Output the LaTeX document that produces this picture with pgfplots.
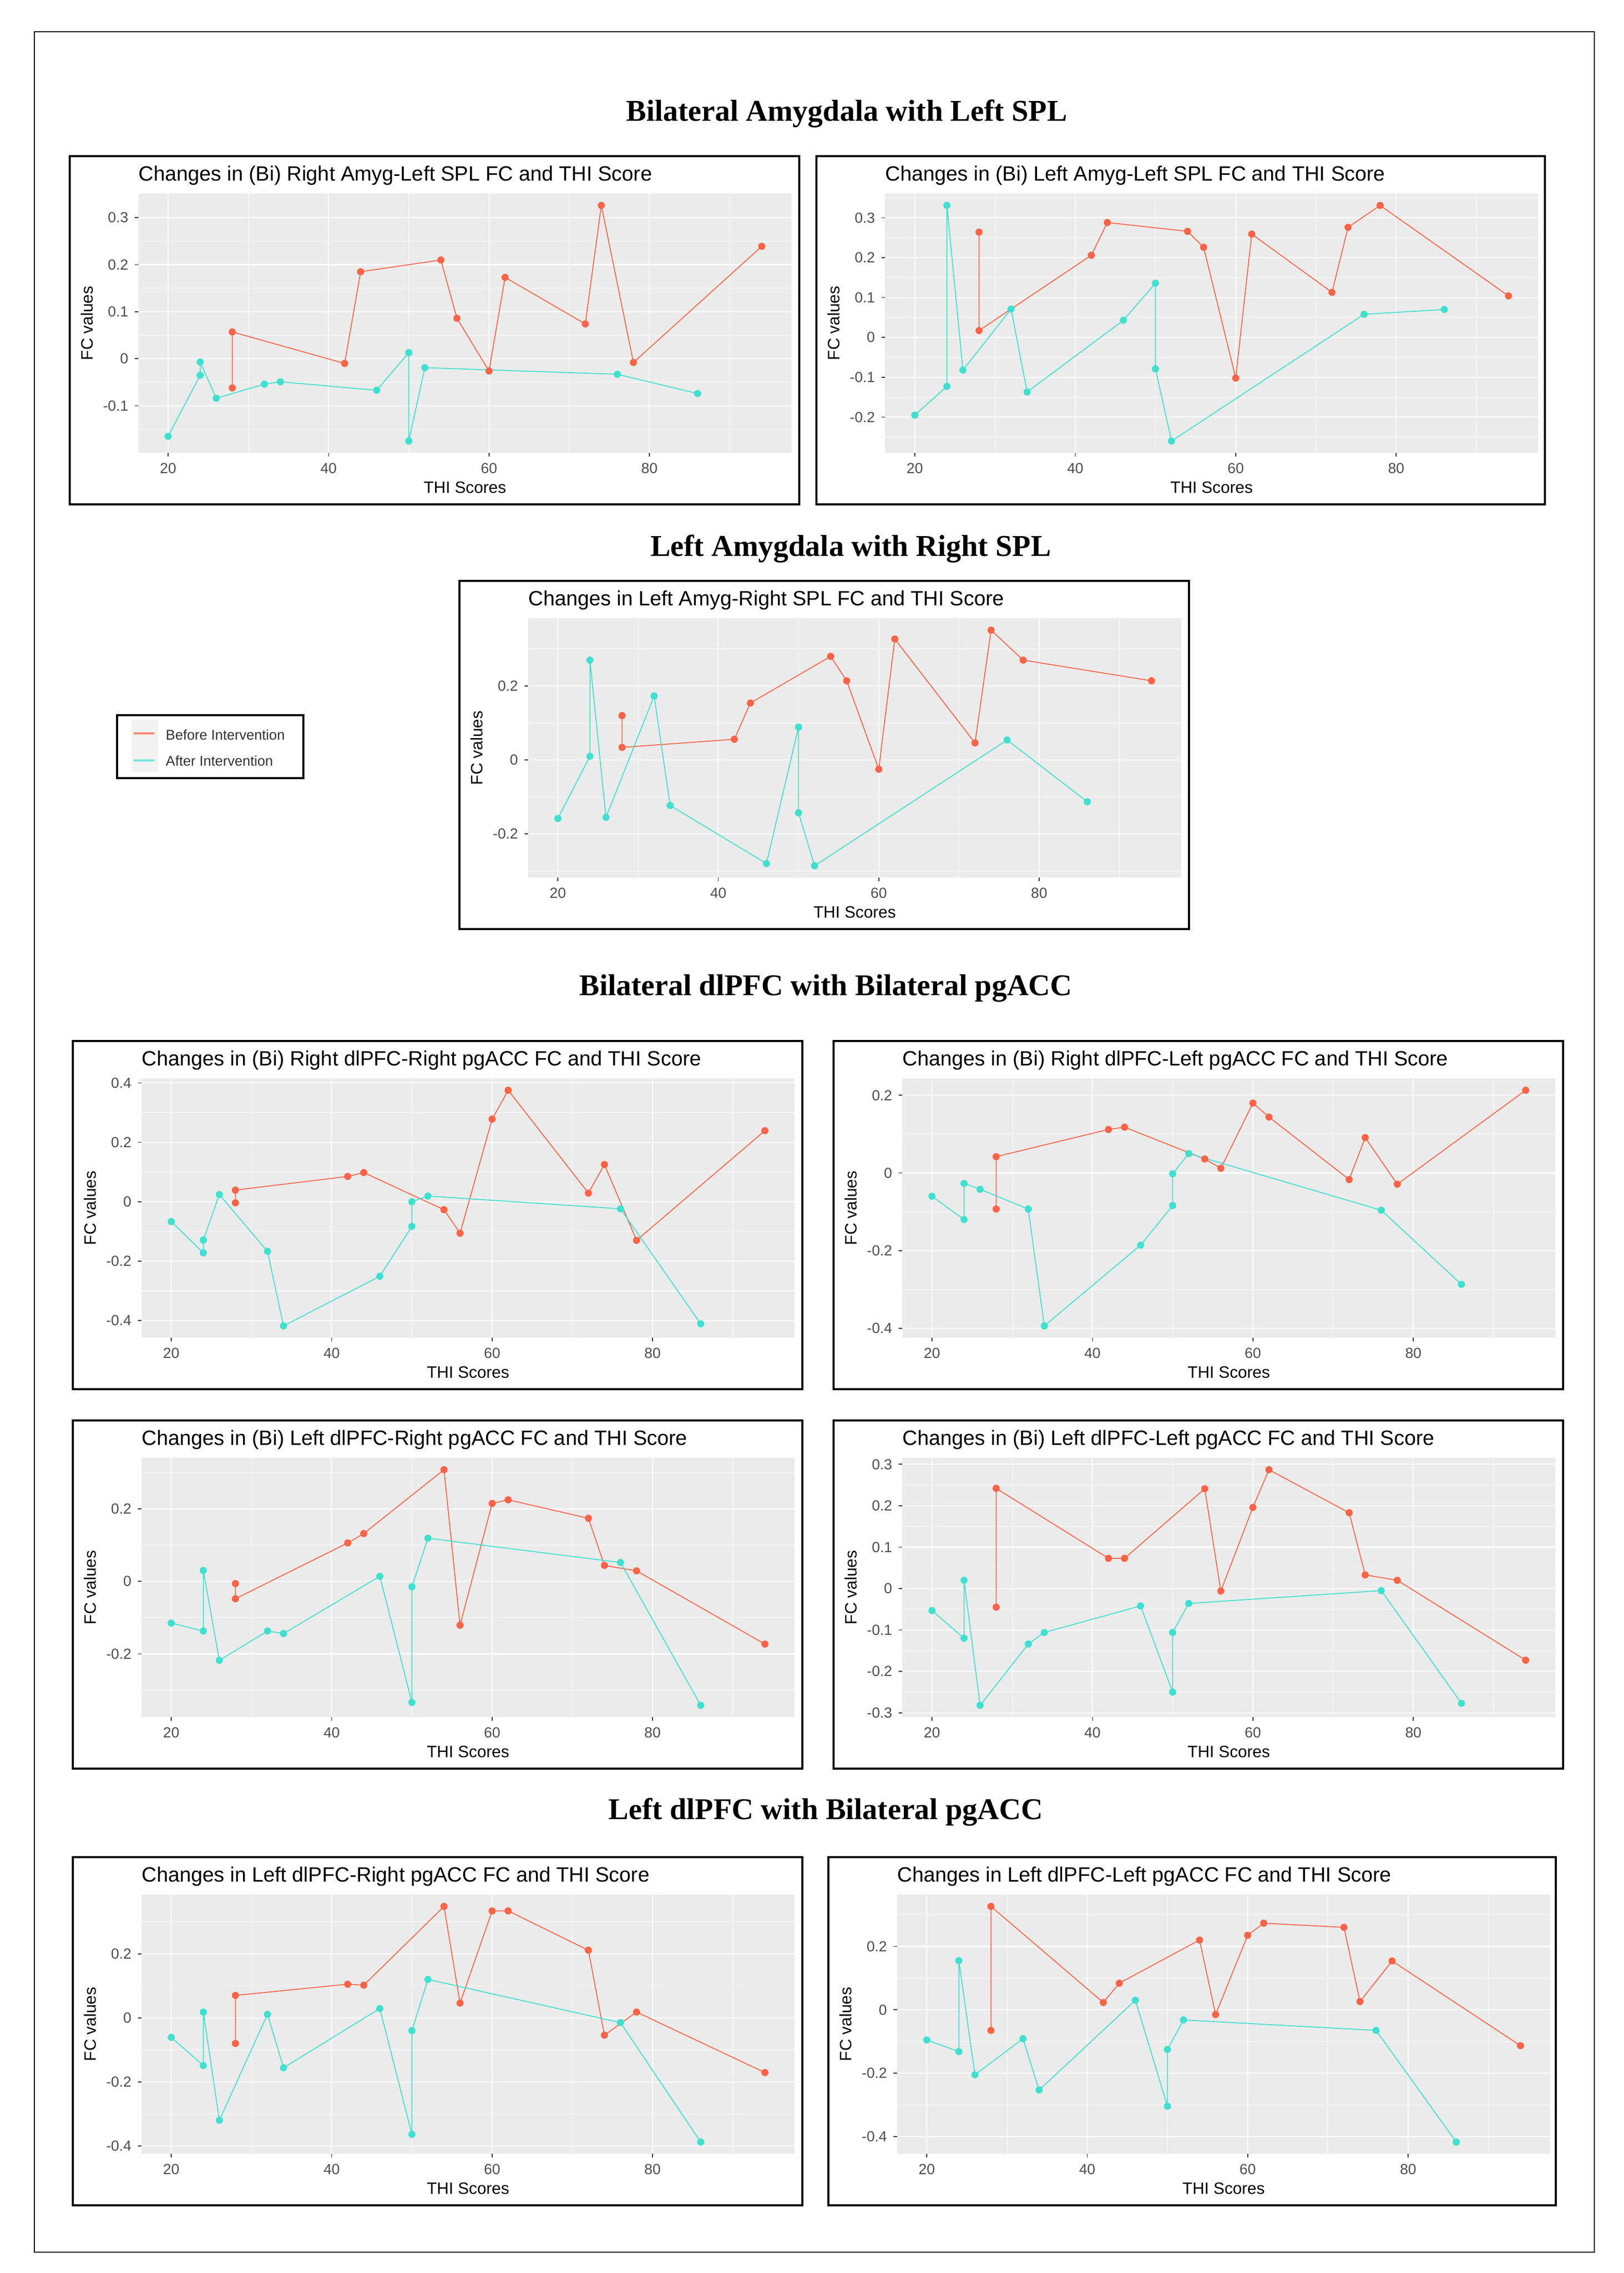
\documentclass[border=0pt]{standalone}
\usepackage{pgfplots}
\pgfplotsset{compat=1.18}
\usepackage{fontspec}
\setmainfont{Liberation Sans}
\newfontfamily\headfont{Liberation Serif}

\definecolor{ggbg}{HTML}{EBEBEB}
\definecolor{before}{HTML}{FF6347}
\definecolor{after}{HTML}{40E0D0}
\definecolor{ticktext}{HTML}{4D4D4D}
\definecolor{tickmark}{HTML}{333333}

% ggplot-like panel, plot area 1255 x 498 px (0.1 mm per px)
\pgfplotsset{
  ggpanel/.style={
    scale only axis, width=125.5mm, height=49.8mm,
    anchor=north west,
    xmin=16.3, xmax=97.7, enlarge y limits=0.05,
    xtick={20,40,60,80}, minor xtick={30,50,70,90},
    grid=both,
    axis background/.style={fill=ggbg},
    major grid style={white, line width=0.6pt},
    minor grid style={white, line width=0.3pt},
    axis line style={draw=none},
    tick pos=left, tick align=outside,
    major tick length=0.7mm, minor tick length=0pt,
    tick style={tickmark, line width=0.5pt},
    ticklabel style={font=\fontsize{8}{9}\selectfont, text=ticktext},
    yticklabel style={/pgf/number format/fixed, /pgf/number format/assume math mode=true},
    xticklabel style={/pgf/number format/assume math mode=true},
    xlabel={THI Scores}, ylabel={FC values},
    every axis x label/.style={at={(axis description cs:0.5,0)}, anchor=center,
      yshift=-6.7mm, font=\fontsize{9}{10}\selectfont},
    every axis y label/.style={at={(axis description cs:0,0.5)}, xshift=-9.9mm,
      rotate=90, anchor=center, font=\fontsize{9}{10}\selectfont},
    every axis title/.style={at={(axis description cs:0,1)}, anchor=base west,
      yshift=2.5mm, inner sep=0pt, font=\fontsize{11.3}{12}\selectfont},
  },
  bef/.style={color=before, line width=0.5pt, mark=*, mark size=1.7pt, mark options={solid, fill=before}},
  aft/.style={color=after, line width=0.5pt, mark=*, mark size=1.7pt, mark options={solid, fill=after}},
}

\begin{document}
\begin{tikzpicture}
\fill[white] (0,0) rectangle (312mm,-436.7mm);
\useasboundingbox (0,0) rectangle (312mm,-436.7mm);

% outer frame and section titles
\begin{scope}[x=0.1mm, y=-0.1mm]
\draw[line width=0.6pt] (66,61) rectangle (3064,4327);
\node[anchor=base, font=\headfont\bfseries\fontsize{16.5}{18}\selectfont] at (1627,232) {Bilateral Amygdala with Left SPL};
\node[anchor=base, font=\headfont\bfseries\fontsize{16.5}{18}\selectfont] at (1635,1068) {Left Amygdala with Right SPL};
\node[anchor=base, font=\headfont\bfseries\fontsize{16.5}{18}\selectfont] at (1587,1912) {Bilateral dlPFC with Bilateral pgACC};
\node[anchor=base, font=\headfont\bfseries\fontsize{16.5}{18}\selectfont] at (1587,3495) {Left dlPFC with Bilateral pgACC};
% panel frames
\foreach \x/\y/\w in {134/300/1402, 1569/300/1400, 883/1116/1402,
    140/2000/1402, 1602/2000/1402, 140/2729/1402, 1602/2729/1402,
    140/3568/1402, 1592/3568/1398}
  \draw[line width=1pt] (\x,\y) rectangle ++(\w,669);
% legend
\draw[line width=1pt] (225,1374) rectangle (583,1495);
\fill[black!5] (253,1382) rectangle (304,1483);
\draw[before!75, line width=1.1pt] (257,1409) -- (297,1409);
\draw[after!75, line width=1.1pt] (257,1461) -- (297,1461);
\node[anchor=base west, inner sep=0pt, font=\fontsize{7.7}{9}\selectfont, text=black!80] at (318,1421) {Before Intervention};
\node[anchor=base west, inner sep=0pt, font=\fontsize{7.7}{9}\selectfont, text=black!80] at (318,1471) {After Intervention};
\end{scope}

% Panel 1
\begin{axis}[ggpanel, at={(26.6mm,-37.2mm)},
  title={Changes in (Bi) Right Amyg-Left SPL FC and THI Score},
  ytick={-0.1,0,0.1,0.2,0.3}, minor ytick={-0.15,-0.05,0.05,0.15,0.25}]
\addplot[bef] coordinates {(28,-0.062) (28,0.057) (42,-0.010) (44,0.185) (54,0.210) (56,0.086)
  (60,-0.026) (62,0.173) (72,0.074) (74,0.326) (78,-0.008) (94,0.239)};
\addplot[aft] coordinates {(20,-0.165) (24,-0.035) (24,-0.007) (26,-0.084) (32,-0.054) (34,-0.049)
  (46,-0.067) (50,0.013) (50,-0.175) (52,-0.019) (76,-0.033) (86,-0.074)};
\end{axis}

% Panel 2
\begin{axis}[ggpanel, at={(170.1mm,-37.2mm)},
  title={Changes in (Bi) Left Amyg-Left SPL FC and THI Score},
  ytick={-0.2,-0.1,0,0.1,0.2,0.3}, minor ytick={-0.25,-0.15,-0.05,0.05,0.15,0.25,0.35}]
\addplot[bef] coordinates {(28,0.264) (28,0.017) (42,0.206) (44,0.288) (54,0.266) (56,0.226)
  (60,-0.102) (62,0.259) (72,0.113) (74,0.276) (78,0.331) (94,0.104)};
\addplot[aft] coordinates {(20,-0.195) (24,-0.123) (24,0.331) (26,-0.082) (32,0.071) (34,-0.137)
  (46,0.043) (50,0.136) (50,-0.079) (52,-0.260) (76,0.058) (86,0.070)};
\end{axis}

% Panel 3
\begin{axis}[ggpanel, at={(101.5mm,-118.8mm)},
  title={Changes in Left Amyg-Right SPL FC and THI Score},
  ytick={-0.2,0,0.2}, minor ytick={-0.3,-0.1,0.1,0.3}]
\addplot[bef] coordinates {(28,0.120) (28,0.034) (42,0.056) (44,0.154) (54,0.280) (56,0.214)
  (60,-0.025) (62,0.327) (72,0.046) (74,0.351) (78,0.270) (94,0.214)};
\addplot[aft] coordinates {(20,-0.158) (24,0.010) (24,0.270) (26,-0.155) (32,0.173) (34,-0.123)
  (46,-0.280) (50,0.089) (50,-0.143) (52,-0.286) (76,0.054) (86,-0.113)};
\end{axis}

% Panel 4
\begin{axis}[ggpanel, at={(27.2mm,-207.2mm)},
  title={Changes in (Bi) Right dlPFC-Right pgACC FC and THI Score},
  ytick={-0.4,-0.2,0,0.2,0.4}, minor ytick={-0.3,-0.1,0.1,0.3}]
\addplot[bef] coordinates {(28,-0.004) (28,0.039) (42,0.085) (44,0.098) (54,-0.027) (56,-0.106)
  (60,0.278) (62,0.375) (72,0.029) (74,0.125) (78,-0.130) (94,0.239)};
\addplot[aft] coordinates {(20,-0.067) (24,-0.172) (24,-0.129) (26,0.024) (32,-0.167) (34,-0.418)
  (46,-0.251) (50,-0.083) (50,0.000) (52,0.019) (76,-0.024) (86,-0.411)};
\end{axis}

% Panel 5
\begin{axis}[ggpanel, at={(173.4mm,-207.2mm)},
  title={Changes in (Bi) Right dlPFC-Left pgACC FC and THI Score},
  ytick={-0.4,-0.2,0,0.2}, minor ytick={-0.3,-0.1,0.1}]
\addplot[bef] coordinates {(28,-0.093) (28,0.042) (42,0.112) (44,0.118) (54,0.036) (56,0.012)
  (60,0.180) (62,0.144) (72,-0.017) (74,0.091) (78,-0.029) (94,0.213)};
\addplot[aft] coordinates {(20,-0.060) (24,-0.120) (24,-0.027) (26,-0.042) (32,-0.093) (34,-0.394)
  (46,-0.186) (50,-0.084) (50,-0.002) (52,0.050) (76,-0.096) (86,-0.287)};
\end{axis}

% Panel 6
\begin{axis}[ggpanel, at={(27.2mm,-280.1mm)},
  title={Changes in (Bi) Left dlPFC-Right pgACC FC and THI Score},
  ytick={-0.2,0,0.2}, minor ytick={-0.3,-0.1,0.1,0.3}]
\addplot[bef] coordinates {(28,-0.006) (28,-0.048) (42,0.106) (44,0.132) (54,0.308) (56,-0.121)
  (60,0.215) (62,0.225) (72,0.174) (74,0.044) (78,0.029) (94,-0.173)};
\addplot[aft] coordinates {(20,-0.115) (24,-0.137) (24,0.030) (26,-0.218) (32,-0.137) (34,-0.144)
  (46,0.014) (50,-0.334) (50,-0.015) (52,0.119) (76,0.052) (86,-0.342)};
\end{axis}

% Panel 7
\begin{axis}[ggpanel, at={(173.4mm,-280.1mm)},
  title={Changes in (Bi) Left dlPFC-Left pgACC FC and THI Score},
  ytick={-0.3,-0.2,-0.1,0,0.1,0.2,0.3}, minor ytick={-0.25,-0.15,-0.05,0.05,0.15,0.25}]
\addplot[bef] coordinates {(28,-0.045) (28,0.242) (42,0.073) (44,0.073) (54,0.241) (56,-0.006)
  (60,0.196) (62,0.287) (72,0.183) (74,0.033) (78,0.020) (94,-0.173)};
\addplot[aft] coordinates {(20,-0.053) (24,-0.120) (24,0.020) (26,-0.282) (32,-0.134) (34,-0.106)
  (46,-0.042) (50,-0.250) (50,-0.106) (52,-0.036) (76,-0.005) (86,-0.277)};
\end{axis}

% Panel 8
\begin{axis}[ggpanel, at={(27.2mm,-364.0mm)},
  title={Changes in Left dlPFC-Right pgACC FC and THI Score},
  ytick={-0.4,-0.2,0,0.2}, minor ytick={-0.3,-0.1,0.1,0.3}]
\addplot[bef] coordinates {(28,-0.080) (28,0.070) (42,0.105) (44,0.102) (54,0.348) (56,0.046)
  (60,0.334) (62,0.334) (72,0.211) (74,-0.054) (78,0.018) (94,-0.171)};
\addplot[aft] coordinates {(20,-0.061) (24,-0.149) (24,0.018) (26,-0.320) (32,0.011) (34,-0.156)
  (46,0.029) (50,-0.364) (50,-0.040) (52,0.120) (76,-0.015) (86,-0.388)};
\end{axis}

% Panel 9
\begin{axis}[ggpanel, at={(172.4mm,-364.0mm)},
  title={Changes in Left dlPFC-Left pgACC FC and THI Score},
  ytick={-0.4,-0.2,0,0.2}, minor ytick={-0.3,-0.1,0.1,0.3}]
\addplot[bef] coordinates {(28,-0.065) (28,0.326) (42,0.023) (44,0.084) (54,0.220) (56,-0.015)
  (60,0.235) (62,0.273) (72,0.260) (74,0.026) (78,0.154) (94,-0.113)};
\addplot[aft] coordinates {(20,-0.095) (24,-0.132) (24,0.155) (26,-0.205) (32,-0.091) (34,-0.253)
  (46,0.030) (50,-0.304) (50,-0.125) (52,-0.032) (76,-0.065) (86,-0.417)};
\end{axis}
\end{tikzpicture}
\end{document}
